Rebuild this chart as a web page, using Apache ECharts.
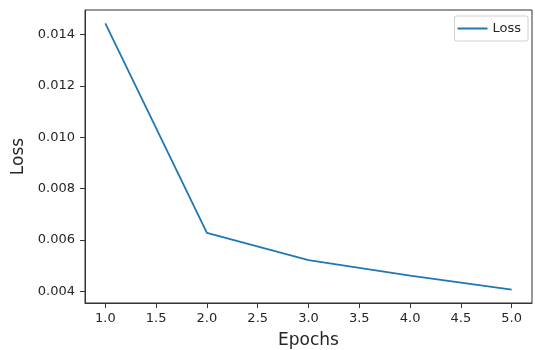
<!DOCTYPE html>
<html>
<head>
<meta charset="utf-8">
<script src="https://cdn.jsdelivr.net/npm/echarts@6/dist/echarts.min.js"></script>
<style>
html,body{margin:0;padding:0;background:#fff;}
#c{width:535px;height:350px;}
</style>
</head>
<body>
<div id="c"></div>
<script>
const epochs = [1, 2, 3, 4, 5];
const lossValues = [0.01444, 0.00628, 0.00522, 0.00462, 0.00407];
const xTicks = [1.0, 1.5, 2.0, 2.5, 3.0, 3.5, 4.0, 4.5, 5.0];
const yTicks = [0.004, 0.006, 0.008, 0.010, 0.012, 0.014];
const seriesName = 'Loss';

const chart = echarts.init(document.getElementById('c'), null, {renderer: 'canvas'});
const font = 'DejaVu Sans';
const textColor = '#262626';
chart.setOption({
  animation: false,
  backgroundColor: '#fff',
  grid: {left: 85, top: 10, right: 3, bottom: 47, show: true, borderColor: '#333', borderWidth: 1, backgroundColor: 'transparent', containLabel: false, outerBoundsMode: 'none'},
  legend: {
    show: true,
    right: 7,
    top: 16,
    orient: 'vertical',
    data: [seriesName],
    itemWidth: 30,
    itemHeight: 2,
    itemGap: 5,
    padding: [6, 7, 6, 3],
    borderColor: '#d0d0d0',
    borderWidth: 1,
    borderRadius: 2,
    textStyle: {fontFamily: font, fontSize: 13, color: textColor},
    icon: 'rect'
  },
  xAxis: {
    type: 'value',
    min: 0.8,
    max: 5.2,
    name: 'Epochs',
    nameLocation: 'middle',
    nameGap: 29,
    nameTextStyle: {fontFamily: font, fontSize: 17, color: textColor},
    axisLine: {show: true, onZero: false, lineStyle: {color: '#333', width: 1}},
    axisTick: {show: true, length: 5, inside: false, customValues: xTicks, lineStyle: {color: '#333'}},
    axisLabel: {customValues: xTicks, fontFamily: font, fontSize: 13, color: textColor, margin: 9, formatter: v => v.toFixed(1)},
    splitLine: {show: false}
  },
  yAxis: {
    type: 'value',
    min: 0.00355,
    max: 0.01496,
    name: 'Loss',
    nameLocation: 'middle',
    nameGap: 55,
    nameRotate: 90,
    nameTextStyle: {fontFamily: font, fontSize: 17, color: textColor},
    axisLine: {show: true, onZero: false, lineStyle: {color: '#333', width: 1}},
    axisTick: {show: true, length: 5, inside: false, customValues: yTicks, lineStyle: {color: '#333'}},
    axisLabel: {customValues: yTicks, fontFamily: font, fontSize: 13, color: textColor, margin: 10, formatter: v => v.toFixed(3)},
    splitLine: {show: false}
  },
  series: [{
    name: seriesName,
    type: 'line',
    data: epochs.map((e, i) => [e, lossValues[i]]),
    showSymbol: false,
    symbol: 'none',
    lineStyle: {color: '#1f77b4', width: 1.8},
    itemStyle: {color: '#1f77b4'}
  }]
});
</script>
</body>
</html>
